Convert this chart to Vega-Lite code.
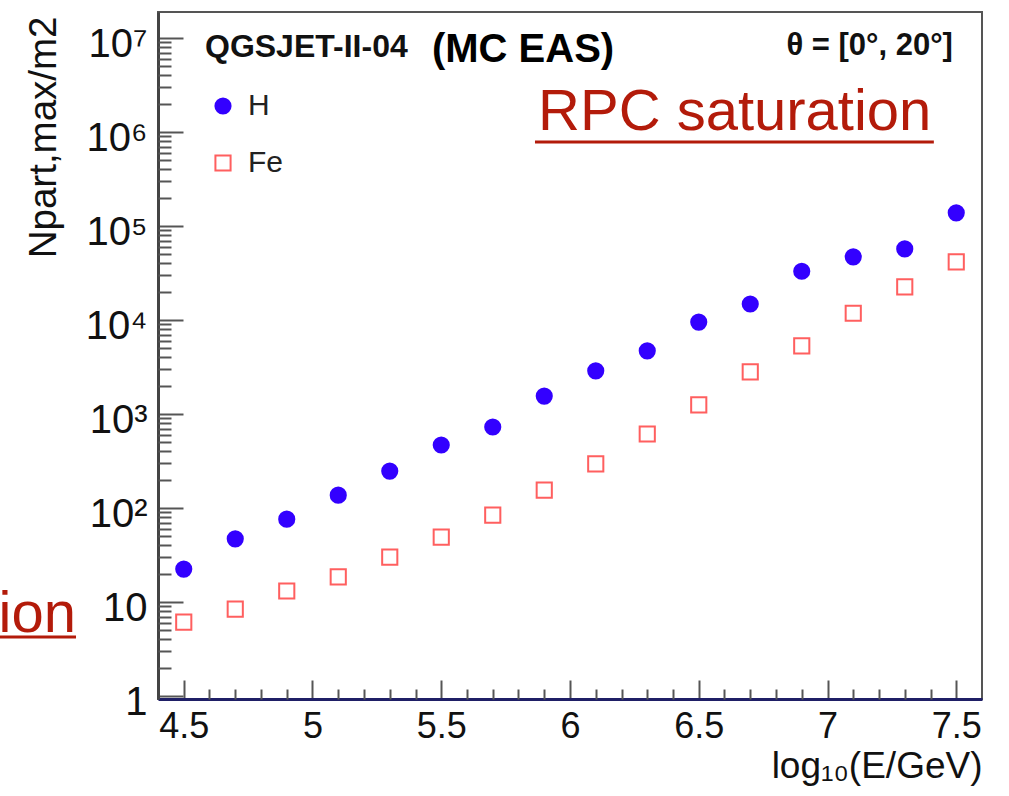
{
  "$schema": "https://vega.github.io/schema/vega-lite/v6.json",
  "width": 824,
  "height": 687,
  "autosize": {"type": "none"},
  "padding": {"left": 158, "top": 12, "right": 27, "bottom": 97},
  "background": "white",
  "config": {
    "view": {"stroke": "#555555", "strokeWidth": 2},
    "font": "Liberation Sans"
  },
  "datasets": {
    "points": [
      {"logE": 4.5, "N": 22.4, "species": "H"},
      {"logE": 4.7, "N": 47, "species": "H"},
      {"logE": 4.9, "N": 76, "species": "H"},
      {"logE": 5.1, "N": 137, "species": "H"},
      {"logE": 5.3, "N": 247, "species": "H"},
      {"logE": 5.5, "N": 468, "species": "H"},
      {"logE": 5.7, "N": 727, "species": "H"},
      {"logE": 5.9, "N": 1550, "species": "H"},
      {"logE": 6.1, "N": 2880, "species": "H"},
      {"logE": 6.3, "N": 4700, "species": "H"},
      {"logE": 6.5, "N": 9500, "species": "H"},
      {"logE": 6.7, "N": 14800, "species": "H"},
      {"logE": 6.9, "N": 33000, "species": "H"},
      {"logE": 7.1, "N": 47000, "species": "H"},
      {"logE": 7.3, "N": 57000, "species": "H"},
      {"logE": 7.5, "N": 138000, "species": "H"},
      {"logE": 4.5, "N": 6.1, "species": "Fe"},
      {"logE": 4.7, "N": 8.4, "species": "Fe"},
      {"logE": 4.9, "N": 13.1, "species": "Fe"},
      {"logE": 5.1, "N": 18.5, "species": "Fe"},
      {"logE": 5.3, "N": 30, "species": "Fe"},
      {"logE": 5.5, "N": 49, "species": "Fe"},
      {"logE": 5.7, "N": 84, "species": "Fe"},
      {"logE": 5.9, "N": 155, "species": "Fe"},
      {"logE": 6.1, "N": 295, "species": "Fe"},
      {"logE": 6.3, "N": 613, "species": "Fe"},
      {"logE": 6.5, "N": 1250, "species": "Fe"},
      {"logE": 6.7, "N": 2800, "species": "Fe"},
      {"logE": 6.9, "N": 5300, "species": "Fe"},
      {"logE": 7.1, "N": 11800, "species": "Fe"},
      {"logE": 7.3, "N": 22500, "species": "Fe"},
      {"logE": 7.5, "N": 41500, "species": "Fe"}
    ],
    "one": [{}]
  },
  "layer": [
    {
      "data": {"name": "points"},
      "mark": {"type": "point", "filled": false, "strokeWidth": 2, "size": 230, "opacity": 1},
      "encoding": {
        "x": {
          "field": "logE", "type": "quantitative",
          "scale": {"domain": [4.4, 7.6], "nice": false, "zero": false},
          "axis": {
            "orient": "bottom",
            "values": [4.5, 5, 5.5, 6, 6.5, 7, 7.5],
            "format": "~g",
            "grid": false,
            "tickSize": -19, "tickWidth": 2, "tickColor": "#555555",
            "domainColor": "#1f1f66", "domainWidth": 3,
            "labelFontSize": 36, "labelColor": "#111111", "labelFont": "Liberation Sans",
            "labelBaseline": "alphabetic", "labelPadding": 57, "labelFlush": false, "labelOverlap": false,
            "title": "log₁₀(E/GeV)", "titleFont": "Liberation Sans", "titleFontSize": 37, "titleFontWeight": "normal",
            "titleColor": "#111111", "titleAnchor": "end", "titleAlign": "right", "titleBaseline": "alphabetic",
            "titleX": 824, "titleY": 78
          }
        },
        "y": {
          "field": "N", "type": "quantitative",
          "scale": {"type": "log", "domain": [0.929, 18900000], "nice": false},
          "axis": {
            "orient": "left",
            "values": [1, 10, 100, 1000, 10000, 100000, 1000000, 10000000],
            "labelExpr": "datum.value < 2 ? '1' : datum.value < 20 ? '10' : '10' + ['', '', '²', '³', '⁴', '⁵', '⁶', '⁷'][round(log(datum.value) / LN10)]",
            "grid": false,
            "tickSize": -25, "tickWidth": 2, "tickColor": "#555555",
            "domainColor": "#444444", "domainWidth": 3,
            "labelFontSize": 40, "labelColor": "#111111", "labelFont": "Liberation Sans",
            "labelBaseline": "alphabetic", "labelOffset": 19, "labelPadding": 36, "labelFlush": false, "labelOverlap": false,
            "title": "Npart,max/m2", "titleFont": "Liberation Sans", "titleFontSize": 38.5, "titleFontWeight": "normal",
            "titleColor": "#111111", "titleAnchor": "end", "titleAlign": "right", "titleBaseline": "alphabetic",
            "titleAngle": 270, "titleX": -103, "titleY": 4
          }
        },
        "shape": {
          "field": "species", "type": "nominal",
          "scale": {"domain": ["H", "Fe"], "range": ["circle", "square"]},
          "legend": {"orient": "none", "legendX": 50, "legendY": 79, "title": null, "labelFontSize": 30, "labelFont": "Liberation Sans", "labelColor": "#222222", "symbolSize": 230, "symbolStrokeWidth": 2, "rowPadding": 27, "labelOffset": 10, "padding": 0}
        },
        "stroke": {
          "field": "species", "type": "nominal",
          "scale": {"domain": ["H", "Fe"], "range": ["#3300ff", "#ff5f5f"]},
          "legend": {"orient": "none", "legendX": 50, "legendY": 79, "title": null, "labelFontSize": 30, "labelFont": "Liberation Sans", "labelColor": "#222222", "symbolSize": 230, "symbolStrokeWidth": 2, "rowPadding": 27, "labelOffset": 10, "padding": 0}
        },
        "fill": {
          "field": "species", "type": "nominal",
          "scale": {"domain": ["H", "Fe"], "range": ["#3300ff", "#ffffff"]},
          "legend": {"orient": "none", "legendX": 50, "legendY": 79, "title": null, "labelFontSize": 30, "labelFont": "Liberation Sans", "labelColor": "#222222", "symbolSize": 230, "symbolStrokeWidth": 2, "rowPadding": 27, "labelOffset": 10, "padding": 0}
        }
      }
    },
    {
      "data": {"name": "one"},
      "mark": {"type": "rule", "color": "#b31b0a", "strokeWidth": 3},
      "encoding": {
        "x": {
          "datum": 5.864, "type": "quantitative",
          "axis": {
            "orient": "bottom",
            "values": [4.6, 4.7, 4.8, 4.9, 5.1, 5.2, 5.3, 5.4, 5.6, 5.7, 5.8, 5.9, 6.1, 6.2, 6.3, 6.4, 6.6, 6.7, 6.8, 6.9, 7.1, 7.2, 7.3, 7.4],
            "labels": false, "domain": false, "grid": false, "title": null,
            "tickSize": -10, "tickWidth": 2, "tickColor": "#555555"
          }
        },
        "x2": {"datum": 7.413},
        "y": {
          "datum": 783000, "type": "quantitative",
          "axis": {
            "orient": "left",
            "values": [2, 3, 4, 5, 6, 7, 8, 9, 20, 30, 40, 50, 60, 70, 80, 90, 200, 300, 400, 500, 600, 700, 800, 900, 2000, 3000, 4000, 5000, 6000, 7000, 8000, 9000, 20000, 30000, 40000, 50000, 60000, 70000, 80000, 90000, 200000, 300000, 400000, 500000, 600000, 700000, 800000, 900000, 2000000, 3000000, 4000000, 5000000, 6000000, 7000000, 8000000, 9000000],
            "labels": false, "domain": false, "grid": false, "title": null,
            "tickSize": -13, "tickWidth": 2, "tickColor": "#555555"
          }
        }
      }
    },
    {
      "data": {"name": "one"},
      "mark": {"type": "rule", "color": "#b31b0a", "strokeWidth": 3},
      "encoding": {
        "x": {"datum": 3.5, "type": "quantitative", "axis": null},
        "x2": {"datum": 4.0816},
        "y": {"datum": 4.24, "type": "quantitative", "axis": null}
      }
    },
    {
      "data": {"name": "one"},
      "mark": {"type": "text", "text": "RPC saturation", "font": "Liberation Sans", "fontSize": 58, "color": "#b31b0a", "align": "left", "baseline": "alphabetic"},
      "encoding": {
        "x": {"datum": 5.876, "type": "quantitative", "axis": null},
        "y": {"datum": 1050000, "type": "quantitative", "axis": null}
      }
    },
    {
      "data": {"name": "one"},
      "mark": {"type": "text", "text": "ion", "font": "Liberation Sans", "fontSize": 58, "color": "#b31b0a", "align": "right", "baseline": "alphabetic"},
      "encoding": {
        "x": {"datum": 4.0816, "type": "quantitative", "axis": null},
        "y": {"datum": 4.8, "type": "quantitative", "axis": null}
      }
    },
    {
      "data": {"name": "one"},
      "mark": {"type": "text", "text": "QGSJET-II-04", "font": "Liberation Sans", "fontSize": 32, "fontWeight": "bold", "color": "#111111", "align": "left", "baseline": "alphabetic"},
      "encoding": {
        "x": {"datum": 4.5825, "type": "quantitative", "axis": null},
        "y": {"datum": 6280000, "type": "quantitative", "axis": null}
      }
    },
    {
      "data": {"name": "one"},
      "mark": {"type": "text", "text": "(MC EAS)", "font": "Liberation Sans", "fontSize": 40, "fontWeight": "bold", "color": "#000000", "align": "left", "baseline": "alphabetic"},
      "encoding": {
        "x": {"datum": 5.464, "type": "quantitative", "axis": null},
        "y": {"datum": 5560000, "type": "quantitative", "axis": null}
      }
    },
    {
      "data": {"name": "one"},
      "mark": {"type": "text", "text": "θ = [0°, 20°]", "font": "Liberation Sans", "fontSize": 31, "fontWeight": "bold", "color": "#111111", "align": "right", "baseline": "alphabetic"},
      "encoding": {
        "x": {"datum": 7.487, "type": "quantitative", "axis": null},
        "y": {"datum": 6600000, "type": "quantitative", "axis": null}
      }
    }
  ],
  "resolve": {"axis": {"x": "independent", "y": "independent"}}
}
